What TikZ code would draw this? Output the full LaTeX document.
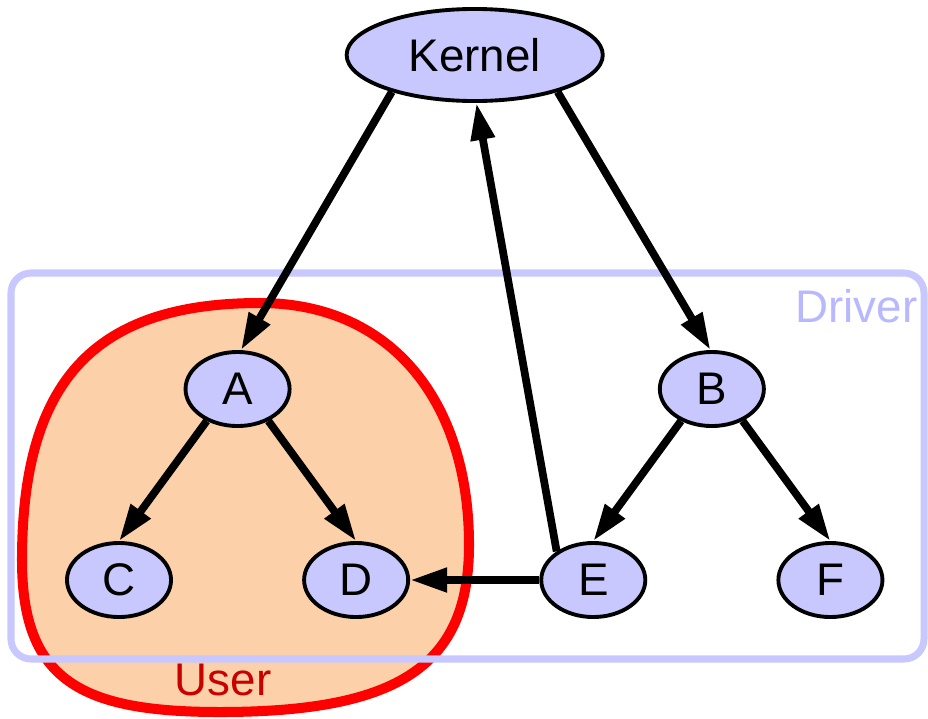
\documentclass[tikz,border=0pt]{standalone}
\usepackage{fontspec}
\setmainfont{Liberation Sans}
\usetikzlibrary{calc,arrows.meta,shapes.geometric}

\definecolor{nodeblue}{RGB}{200,200,255}
\definecolor{drvblue}{RGB}{184,184,255}
\definecolor{userfill}{RGB}{252,208,168}
\definecolor{userred}{RGB}{200,0,0}

\begin{document}
\begin{tikzpicture}[x=0.01cm, y=-0.01cm, node distance=2.37cm,
  nd/.style={ellipse, draw, fill=nodeblue, line width=1.1pt, minimum width=1.04cm, minimum height=0.74cm, inner sep=0pt, font=\fontsize{13}{15}\selectfont},
  edge/.style={-{Triangle[length=0.37cm, width=0.23cm]}, line width=2.2pt},
  lbl/.style={inner sep=0pt, font=\fontsize{13}{15}\selectfont}]

  \useasboundingbox (0,0) rectangle (928,718);

  % User cluster
  \draw[line width=2.85pt, draw=red, fill=userfill]
    (260,303) .. controls (390,303) and (469,400) .. (469,545)
              .. controls (469,665) and (400,712) .. (220,712)
              .. controls (80,712) and (22,680) .. (22,560)
              .. controls (22,380) and (95,303) .. cycle;
  \node[lbl, anchor=base, text=userred] (usr) at (223,695) {User};

  % Driver cluster
  \draw[line width=2pt, draw=nodeblue, rounded corners=0.2cm] (11,273) rectangle (924,659);
  \node[lbl, anchor=base east, text=drvblue] (drv) at (918,322) {Driver};

  % Bottom row
  \node[nd] (C) at (119,580) {C};
  \node[nd, right of=C] (D) {D};
  \node[nd, right of=D] (E) {E};
  \node[nd, right of=E] (F) {F};

  % Middle row
  \node[nd] (A) at ($(C)!0.5!(D)+(0,-191)$) {A};
  \node[nd] (B) at ($(E)!0.5!(F)+(0,-191)$) {B};

  % Top
  \node[nd, minimum width=2.56cm, minimum height=0.92cm] (K) at ($(A)!0.5!(B)+(0,-334)$) {Kernel};

  % Edges
  \draw[edge] (K.204) -- (A.85);
  \draw[edge] (K.336) -- (B.92);
  \draw[edge] (A.226) -- (C.north);
  \draw[edge] (A.-46) -- (D.north);
  \draw[edge] (B.226) -- (E.north);
  \draw[edge] (B.-46) -- (F.north);
  \draw[edge] (E.142) -- (K.272);
  \draw[edge] (E.west) -- (D.east);

\end{tikzpicture}
\end{document}
